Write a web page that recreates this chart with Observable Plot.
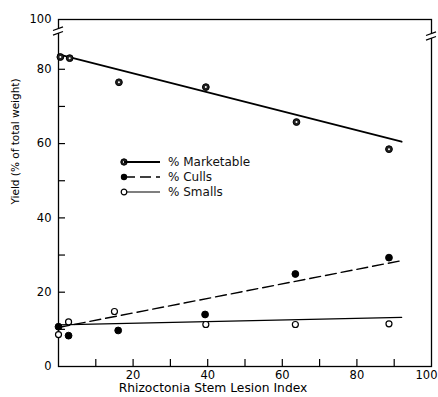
<!DOCTYPE html>
<html><head><meta charset="utf-8">
<script src="https://cdn.jsdelivr.net/npm/d3@7"></script>
<script src="https://cdn.jsdelivr.net/npm/@observablehq/plot@0.6"></script>
<style>
html,body{margin:0;padding:0;background:#fff;}
#wrap{position:relative;width:438px;height:397px;font-family:"DejaVu Sans",sans-serif;}
#legend{position:absolute;left:120px;top:154px;font-size:12px;color:#111;}
.row{display:flex;align-items:center;height:15px;white-space:nowrap}
.row svg{margin-right:8px}
</style></head><body><div id="wrap"></div>
<script>
// ---- data ----
const marketX = [0.5, 3, 16.2, 39.5, 63.8, 88.6];
const marketable = [83.3, 83.0, 76.5, 75.2, 65.8, 58.5];
const cullsX = [0, 2.7, 16, 39.3, 63.5, 88.6];
const culls = [10.7, 8.3, 9.7, 14.0, 24.9, 29.3];
const smallsX = [0, 2.7, 15, 39.5, 63.5, 88.6];
const smalls = [8.6, 12.0, 14.8, 11.3, 11.3, 11.5];
const fitX = [0, 92];
const marketableFit = [84.0, 60.5];
const cullsFit = [10.5, 28.5];
const smallsFit = [11.2, 13.2];
const xTickLabels = [20, 40, 60, 80, 100];
const xMinorTicks = [10, 20, 30, 40, 50, 60, 70, 80, 90];
const yTickLabels = [0, 20, 40, 60, 80, 100];
const yMinorTicks = [10, 20, 30, 40, 50, 60, 70, 80];
const seriesNames = ["% Marketable", "% Culls", "% Smalls"];
const xLabel = "Rhizoctonia Stem Lesion Index";
const yLabel = "Yield (% of total weight)";

// broken y axis: the span 80..100 is compressed
const yPos = v => v <= 80 ? v : 80 + (v - 80) * 0.67;
const yTop = yPos(100);

const W = 438, H = 397, mL = 58, mR = 7, mT = 19, mB = 31;
const frameW = W - mL - mR, frameH = H - mT - mB;

const pts = (xs, ys) => xs.map((x, i) => ({x, y: ys[i]}));
const mPts = pts(marketX, marketable), cPts = pts(cullsX, culls), sPts = pts(smallsX, smalls);
const mFit = pts(fitX, marketableFit), cFit = pts(fitX, cullsFit), sFit = pts(fitX, smallsFit);

function axisBreaks(index, {x, y}) {
  const g = d3.create("svg:g").attr("stroke", "black").attr("stroke-width", 1.2);
  const left = x(0), right = x(100), top = y(yTop);
  for (const [cx, cy] of [[left, top + 12], [right, top + 17]]) {
    g.append("rect").attr("x", cx - 3).attr("y", cy - 2).attr("width", 6).attr("height", 4)
      .attr("fill", "white").attr("stroke", "none");
    for (const o of [-2.3, 2.3]) {
      g.append("line").attr("x1", cx - 5).attr("y1", cy + o + 1.8).attr("x2", cx + 5).attr("y2", cy + o - 1.8);
    }
  }
  return g.node();
}

const chart = Plot.plot({
  width: W, height: H,
  marginLeft: mL, marginRight: mR, marginTop: mT, marginBottom: mB,
  style: {fontFamily: "DejaVu Sans", fontSize: "11px", background: "white", color: "black", overflow: "visible"},
  x: {domain: [0, 100], axis: null},
  y: {domain: [0, yTop], axis: null},
  marks: [
    Plot.frame({stroke: "black", strokeWidth: 1.3}),
    Plot.tickY(yMinorTicks, {y: d => d, stroke: "black", strokeWidth: 1.2, insetRight: frameW - 7}),
    Plot.tickX(xMinorTicks, {x: d => d, stroke: "black", strokeWidth: 1.2, insetTop: frameH - 7}),
    Plot.text(yTickLabels, {x: 0, y: d => yPos(d), text: d => String(d), textAnchor: "end", dx: -7, fontSize: 11.5}),
    Plot.text(xTickLabels.filter(d => d < 100), {x: d => d, y: 0, text: d => String(d), dy: 8.5, fontSize: 11.5}),
    Plot.text(xTickLabels.filter(d => d === 100), {x: d => d, y: 0, text: d => String(d), dy: 8.5, dx: -5, fontSize: 11.5}),
    Plot.text([xLabel], {frameAnchor: "bottom", text: d => d, dx: -32, dy: 25.5, fontSize: 12.3}),
    Plot.text([yLabel], {frameAnchor: "left", text: d => d, rotate: -90, dx: -43, dy: 11.5, fontSize: 10.5}),
    axisBreaks,
    Plot.line(mFit, {x: "x", y: "y", stroke: "black", strokeWidth: 1.8}),
    Plot.line(cFit, {x: "x", y: "y", stroke: "black", strokeWidth: 1.4, strokeDasharray: "11,5"}),
    Plot.line(sFit, {x: "x", y: "y", stroke: "black", strokeWidth: 1.2}),
    Plot.dot(mPts, {x: "x", y: "y", r: 3.4, fill: "#222", stroke: "black", strokeWidth: 1}),
    Plot.dot(mPts, {x: "x", y: "y", r: 1, fill: "white"}),
    Plot.dot(cPts, {x: "x", y: "y", r: 3.4, fill: "black", stroke: "black", strokeWidth: 1}),
    Plot.dot(sPts, {x: "x", y: "y", r: 3, fill: "white", stroke: "black", strokeWidth: 1.2})
  ]
});

const wrap = document.getElementById("wrap");
wrap.appendChild(chart);

// legend
const legend = document.createElement("div");
legend.id = "legend";
const swatches = [
  `<circle cx="4" cy="5" r="3.2" fill="#222" stroke="black"/><circle cx="4" cy="5" r="1" fill="white"/><line x1="4" y1="5" x2="40" y2="5" stroke="black" stroke-width="1.8"/>`,
  `<line x1="4" y1="5" x2="40" y2="5" stroke="black" stroke-width="1.4" stroke-dasharray="11,5"/><circle cx="4" cy="5" r="3.2" fill="black"/>`,
  `<line x1="7" y1="5" x2="40" y2="5" stroke="black" stroke-width="1.2"/><circle cx="4" cy="5" r="2.8" fill="white" stroke="black" stroke-width="1.2"/>`
];
seriesNames.forEach((name, i) => {
  const row = document.createElement("div");
  row.className = "row";
  row.innerHTML = `<svg width="40" height="10" style="overflow:visible">${swatches[i]}</svg><span>${name}</span>`;
  legend.appendChild(row);
});
wrap.appendChild(legend);
</script>
</body></html>
